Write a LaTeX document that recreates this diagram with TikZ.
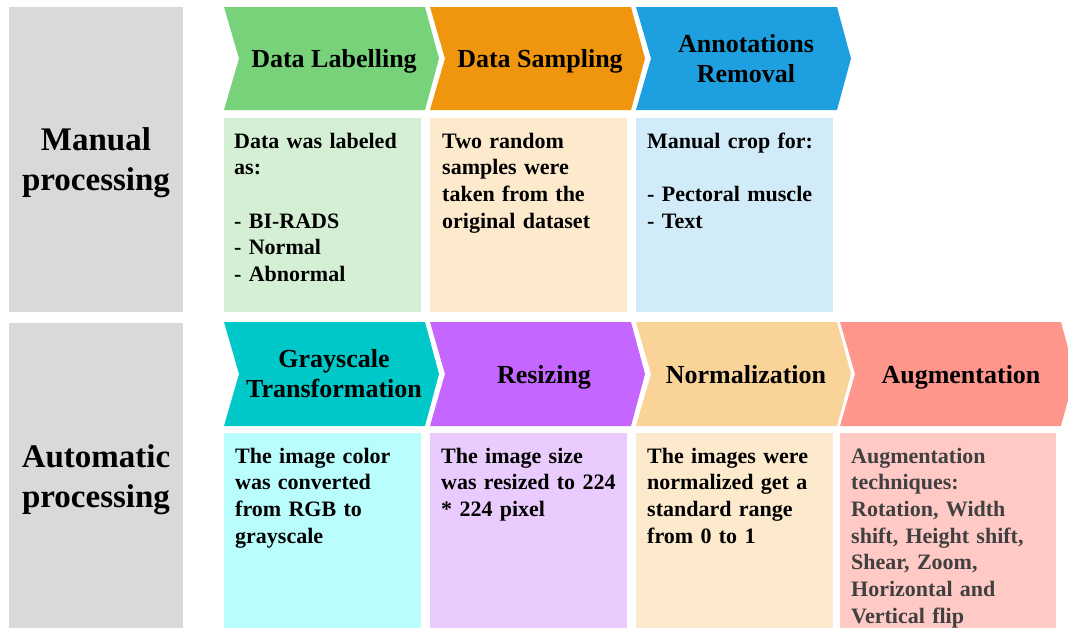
\documentclass[tikz,border=0pt]{standalone}
\usepackage{fontspec}
\setmainfont{Liberation Serif}
\definecolor{sidegray}{HTML}{D9D9D9}
\definecolor{chgreen}{HTML}{77D27A}
\definecolor{bxgreen}{HTML}{D4EFD4}
\definecolor{chorange}{HTML}{F0960E}
\definecolor{bxpeach}{HTML}{FDE9CC}
\definecolor{chblue}{HTML}{1EA0E0}
\definecolor{bxblue}{HTML}{D1EBF8}
\definecolor{chteal}{HTML}{00C8C8}
\definecolor{bxteal}{HTML}{B9FDFC}
\definecolor{chpurple}{HTML}{C466FF}
\definecolor{bxpurple}{HTML}{EACBFD}
\definecolor{chnorm}{HTML}{FAD399}
\definecolor{chsalmon}{HTML}{FF968C}
\definecolor{bxpink}{HTML}{FFC9C5}
\definecolor{augtext}{HTML}{404040}
\tikzset{
  hdr/.style={font=\fontsize{26}{30}\selectfont\bfseries, align=center, inner sep=0pt},
  body/.style={font=\fontsize{22}{26.7}\selectfont\bfseries, text width=195pt, align=left, anchor=base west, inner sep=0pt},
  side/.style={font=\fontsize{33}{40}\selectfont\bfseries, text width=174pt, align=center, anchor=base, inner sep=0pt},
}
\newcommand\chevpath[5]{%
  \fill[#5] (#1,#2) -- ({#1+#4},#2) -- ({#1+#4+14},{(#2+#3)/2}) -- ({#1+#4},#3) -- (#1,#3) -- ({#1+15},{(#2+#3)/2}) -- cycle;}
\begin{document}
\begin{tikzpicture}[x=1pt,y=-1pt]
\useasboundingbox (0,0) rectangle (1068,627);
\clip (0,0) rectangle (1068,627);
\fill[white] (0,0) rectangle (1068,627);
% side boxes
\fill[sidegray] (9,7) rectangle (183,312);
\fill[sidegray] (9,323) rectangle (183,640);
\node[side] (manual) at (96,150) {Manual\\processing};
\node[side] (automatic) at (96,467) {Automatic\\processing};
% top row chevrons
\chevpath{224}{7}{110}{201}{chgreen}
\chevpath{430}{7}{110}{201}{chorange}
\chevpath{636}{7}{110}{201}{chblue}
\node[hdr] (h1) at (334,61) {Data Labelling};
\node[hdr] (h2) at (540,61) {Data Sampling};
\node[hdr] (h3) at (746,59) {Annotations\\Removal};
% top row boxes
\fill[bxgreen] (224,118) rectangle (421,312);
\fill[bxpeach] (430,118) rectangle (627,312);
\fill[bxblue] (636,118) rectangle (833,312);
\node[body] (b1) at (234,148) {Data was labeled\\as:\\\mbox{}\\- BI-RADS\\- Normal\\- Abnormal};
\node[body] (b2) at (442,148) {Two random\\samples were\\taken from the\\original dataset};
\node[body] (b3) at (647,148) {Manual crop for:\\\mbox{}\\- Pectoral muscle\\- Text};
% bottom row chevrons
\chevpath{224}{322}{426}{201}{chteal}
\chevpath{430}{322}{426}{201}{chpurple}
\chevpath{636}{322}{426}{201}{chnorm}
\chevpath{840}{322}{426}{221}{chsalmon}
\node[hdr] (h4) at (334,374) {Grayscale\\Transformation};
\node[hdr] (h5) at (544,377) {Resizing};
\node[hdr] (h6) at (746,375) {Normalization};
\node[hdr] (h7) at (961,377) {Augmentation};
% bottom row boxes
\fill[bxteal] (224,433) rectangle (421,640);
\fill[bxpurple] (430,433) rectangle (627,640);
\fill[bxpeach] (636,433) rectangle (833,640);
\fill[bxpink] (840,433) rectangle (1056,640);
\node[body] (b4) at (235,463) {The image color\\was converted\\from RGB to\\grayscale};
\node[body] (b5) at (441,463) {The image size\\was resized to 224\\{*} 224 pixel};
\node[body] (b6) at (647,463) {The images were\\normalized get a\\standard range\\from 0 to 1};
\node[body, text=augtext] (b7) at (851,463) {Augmentation\\techniques:\\Rotation, Width\\shift, Height shift,\\Shear, Zoom,\\Horizontal and\\Vertical flip};
\end{tikzpicture}
\end{document}
